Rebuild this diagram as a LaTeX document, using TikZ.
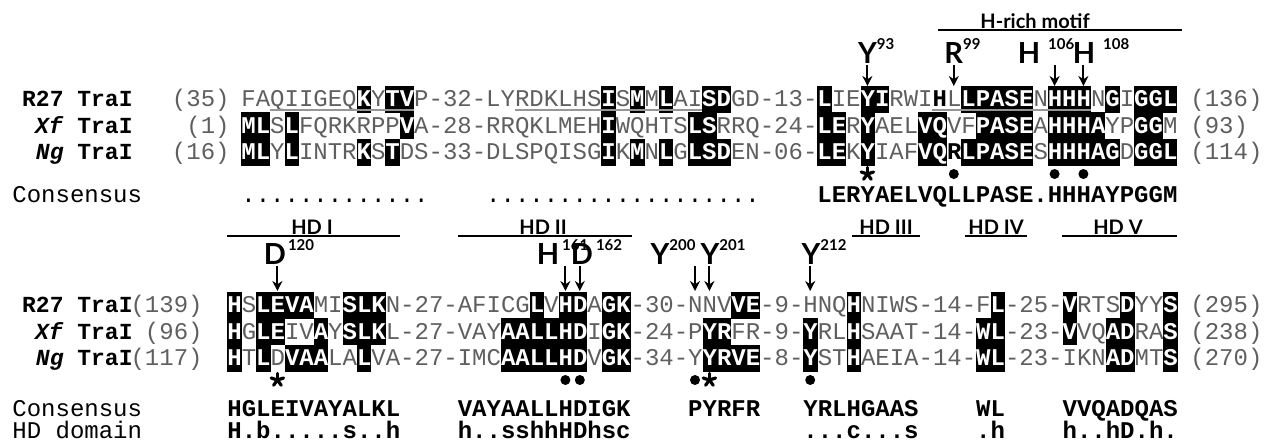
\documentclass[tikz,border=0pt]{standalone}
\usepackage{fontspec}
\setmonofont{Liberation Mono}
\newfontfamily\gillfont{Lato}
\usetikzlibrary{arrows.meta,positioning}
\definecolor{ResGray}{RGB}{95,95,95}
\definecolor{UnderGray}{RGB}{150,150,150}
\newcommand{\bk}[1]{\textbf{\color{black}#1}}
\newcommand{\supnum}[1]{\raisebox{7pt}{\fontsize{7.5}{8}\selectfont #1}}

\begin{document}
\begin{tikzpicture}[x=0.5pt,y=-0.5pt,
  seq/.style={anchor=base west,inner sep=0pt,text=ResGray,font=\ttfamily\fontsize{12}{14}\selectfont},
  hl/.style={anchor=base west,inner sep=0pt,fill=black,text=white,font=\ttfamily\bfseries\fontsize{12}{14}\selectfont,text height=10.5pt,text depth=3pt},
  cons/.style={anchor=base west,inner sep=0pt,font=\ttfamily\bfseries\fontsize{12}{14}\selectfont},
  consdot/.style={anchor=base west,inner sep=0pt,font=\ttfamily\fontsize{12}{14}\selectfont},
  seqname/.style={anchor=base east,inner sep=0pt,font=\ttfamily\bfseries\fontsize{11.5}{14}\selectfont},
  seqnum/.style={inner sep=0pt,text=ResGray,font=\ttfamily\fontsize{12}{14}\selectfont},
  rowlab/.style={anchor=base west,inner sep=0pt,font=\ttfamily\fontsize{12}{14}\selectfont},
  reslab/.style={anchor=base,inner sep=1pt,font=\gillfont\bfseries\fontsize{14.5}{16}\selectfont},
  regionlab/.style={inner sep=0pt,font=\gillfont\bfseries\fontsize{10}{12}\selectfont},
  regionline/.style={line width=1pt},
  resarrow/.style={-{Stealth[length=5pt,width=5pt]},line width=1pt},
  uline/.style={UnderGray,line width=1.2pt},
  astarm/.style={line width=1.6pt,line cap=round}]

\useasboundingbox (0,0) rectangle (1264,441);

% block 1
\node[regionlab] (hrich) at (1035,21) {H-rich motif};
\draw[regionline] (938,30) -- (1182,30);

\node[reslab] (y93) at (867.4,63) {Y\rlap{\supnum{93}}};
\node[reslab] (r99) at (953.8,63) {R\rlap{\supnum{99}}};
\node[reslab] (h106) at (1029,63) {H\rlap{\hspace{4pt}\supnum{106}}};
\node[reslab] (h108) at (1084,63) {H\rlap{\hspace{4pt}\supnum{108}}};
\coordinate (t93) at (867.4,86);
\coordinate (t99) at (953.8,86);
\coordinate (t106) at (1054.6,86);
\coordinate (t108) at (1083.4,86);
\draw[resarrow] (y93.south -| t93) -- (t93);
\draw[resarrow] (r99.south -| t99) -- (t99);
\draw[resarrow] (h106.south -| t106) -- (t106);
\draw[resarrow] (h108.south -| t108) -- (t108);

\node[seqname] (na1) at (133,106.5) {R27 TraI};
\node[seqname] (na2) at (133,133) {\textit{Xf} TraI};
\node[seqname] (na3) at (133,159.5) {\textit{Ng} TraI};
\node[seqnum,anchor=base east] (sa1) at (230,106.5) {(35)};
\node[seqnum,anchor=base east] (sa2) at (230,133) {(1)};
\node[seqnum,anchor=base east] (sa3) at (230,159.5) {(16)};
\node[seqnum,anchor=base west] (ea1) at (1190,106.5) {(136)};
\node[seqnum,anchor=base west] (ea2) at (1190,133) {(93)};
\node[seqnum,anchor=base west] (ea3) at (1190,159.5) {(114)};

\node[seq] (ra) at (241,106.5) {FAQIIGEQKYTVP-32-LYRDKLHSISMMLAISDGD-13-LIEYIRWI\bk{H}LLPASENHHHNGIGGL};
\node[seq] (rb) at (241,133) {MLSLFQRKRPPVA-28-RRQKLMEHIWQHTSLSRRQ-24-LERYAELVQVFPASEAHHHAYPGGM};
\node[seq] (rc) at (241,159.5) {MLYLINTRKSTDS-33-DLSPQISGIKMNLGLSDEN-06-LEKYIAFVQ\bk{R}LPASESHHHAGDGGL};

\foreach \col/\res [count=\i] in {8/K,10/TV,25/I,27/M,29/L,32/SD,40/L,43/YI,50/LPASE,56/HHH,60/G,62/GGL}
  \node[hl] (ha\i) at ({241+\col*14.4},106.5) {\res};
\foreach \col/\res [count=\i] in {0/ML,3/L,11/V,25/I,31/LS,40/LE,43/Y,47/VQ,51/PASE,56/HHHA,62/GG}
  \node[hl] (hb\i) at ({241+\col*14.4},133) {\res};
\foreach \col/\res [count=\i] in {0/ML,3/L,8/K,10/T,25/I,27/M,29/L,31/LSD,40/LE,43/Y,47/VQ,50/LPASE,56/HHHAG,62/GGL}
  \node[hl] (hc\i) at ({241+\col*14.4},159.5) {\res};

\draw[uline] ({241+2*14.4},110) -- ({241+12*14.4},110);
\draw[uline] ({241+19*14.4},110) -- ({241+32*14.4},110);
\draw[uline] ({241+48*14.4},110) -- ({241+59*14.4},110);

\coordinate (sta) at (867.4,174);
\foreach \a in {-90,-18,54,126,198}
  \draw[astarm] (sta) -- ++(\a:6.5);
\foreach \x in {953.8,1054.6,1083.4}
  \fill (\x,174) circle (5);

\node[rowlab] (ca0) at (12,202.5) {Consensus};
\node[consdot] (ca1) at (241,202.5) {.............};
\node[consdot] (ca2) at ({241+17*14.4},202.5) {...................};
\node[cons] (ca3) at ({241+40*14.4},202.5) {LERYAELVQLLPASE.HHHAYPGGM};

% block 2
\node[regionlab] (hd1) at (312,227) {HD I};
\node[regionlab] (hd2) at (543,227) {HD II};
\node[regionlab] (hd3) at (886,227) {HD III};
\node[regionlab] (hd4) at (996,227) {HD IV};
\node[regionlab] (hd5) at (1118,227) {HD V};
\draw[regionline] (227,236) -- (400,236);
\draw[regionline] (458,236) -- (632,236);
\draw[regionline] (852,236) -- (920,236);
\draw[regionline] (965,236) -- (1027,236);
\draw[regionline] (1062,236) -- (1177,236);

\node[reslab] (d120) at (275,264) {D\rlap{\hspace{1pt}\supnum{120}}};
\node[reslab] (h161) at (548,264) {H\rlap{\hspace{1.5pt}\supnum{161}}};
\node[reslab] (d162) at (582,264) {D\rlap{\hspace{1.5pt}\supnum{162}}};
\node[reslab] (y200) at (660,264) {Y\rlap{\supnum{200}}};
\node[reslab] (y201) at (710,264) {Y\rlap{\supnum{201}}};
\node[reslab] (y212) at (811,264) {Y\rlap{\supnum{212}}};
\coordinate (t120) at (277.4,291);
\coordinate (t161) at (565.4,291);
\coordinate (t162) at (579.8,291);
\coordinate (t200) at (695,291);
\coordinate (t201) at (709.4,291);
\coordinate (t212) at (810.2,291);
\draw[resarrow] (d120.south -| t120) -- (t120);
\draw[resarrow] (h161.south -| t161) -- (t161);
\draw[resarrow] (d162.south -| t162) -- (t162);
\draw[resarrow] (y200.south -| t200) -- (t200);
\draw[resarrow] (y201.south -| t201) -- (t201);
\draw[resarrow] (y212.south -| t212) -- (t212);

\node[seqname] (nb1) at (133,312.5) {R27 TraI};
\node[seqname] (nb2) at (133,339) {\textit{Xf} TraI};
\node[seqname] (nb3) at (133,365.5) {\textit{Ng} TraI};
\node[seqnum,anchor=base east] (sb1) at (203,312.5) {(139)};
\node[seqnum,anchor=base east] (sb2) at (203,339) {(96)};
\node[seqnum,anchor=base east] (sb3) at (203,365.5) {(117)};
\node[seqnum,anchor=base west] (eb1) at (1190,312.5) {(295)};
\node[seqnum,anchor=base west] (eb2) at (1190,339) {(238)};
\node[seqnum,anchor=base west] (eb3) at (1190,365.5) {(270)};

\node[seq] (rd) at (227,312.5) {HSLEVAMISLKN-27-AFICGLVHDAGK-30-NNVVE-9-HNQHNIWS-14-FL-25-VRTSDYYS};
\node[seq] (re) at (227,339) {HGLEIVAYSLKL-27-VAYAALLHDIGK-24-PYRFR-9-YRLHSAAT-14-WL-23-VVQADRAS};
\node[seq] (rf) at (227,365.5) {HTLDVAALALVA-27-IMCAALLHDVGK-34-YYRVE-8-YSTHAEIA-14-WL-23-IKNADMTS};

\foreach \col/\res [count=\i] in {0/H,2/LEVA,8/SLK,21/L,23/HD,26/GK,35/VE,43/H,53/L,58/V,62/D,65/S}
  \node[hl] (hd\i) at ({227+\col*14.4},312.5) {\res};
\foreach \col/\res [count=\i] in {0/H,2/LE,6/A,8/SLK,19/AALLHD,26/GK,33/YR,40/Y,43/H,52/WL,58/V,61/AD,65/S}
  \node[hl] (he\i) at ({227+\col*14.4},339) {\res};
\foreach \col/\res [count=\i] in {0/H,2/L,4/VAA,9/L,19/AALLHD,26/GK,33/YRVE,40/Y,43/H,52/WL,61/AD,65/S}
  \node[hl] (hf\i) at ({227+\col*14.4},365.5) {\res};

\coordinate (stb) at (277.4,380);
\coordinate (stc) at (709.4,380);
\foreach \a in {-90,-18,54,126,198} {
  \draw[astarm] (stb) -- ++(\a:6.5);
  \draw[astarm] (stc) -- ++(\a:6.5);
}
\foreach \x in {565.4,579.8,695,810.2}
  \fill (\x,380) circle (5);

\node[rowlab] (cb0) at (12,416.5) {Consensus};
\node[cons] (cb1) at (227,416.5) {HGLEIVAYALKL};
\node[cons] (cb2) at ({227+16*14.4},416.5) {VAYAALLHDIGK};
\node[cons] (cb3) at ({227+32*14.4},416.5) {PYRFR};
\node[cons] (cb4) at ({227+40*14.4},416.5) {YRLHGAAS};
\node[cons] (cb5) at ({227+52*14.4},416.5) {WL};
\node[cons] (cb6) at ({227+58*14.4},416.5) {VVQADQAS};

\node[rowlab] (db0) at (12,438.5) {HD domain};
\node[cons] (db1) at (227,438.5) {H.b.....s..h};
\node[cons] (db2) at ({227+16*14.4},438.5) {h..sshhHDhsc};
\node[cons] (db3) at ({227+40*14.4},438.5) {...c...s};
\node[cons] (db4) at ({227+52*14.4},438.5) {.h};
\node[cons] (db5) at ({227+58*14.4},438.5) {h..hD.h.};
\end{tikzpicture}
\end{document}
